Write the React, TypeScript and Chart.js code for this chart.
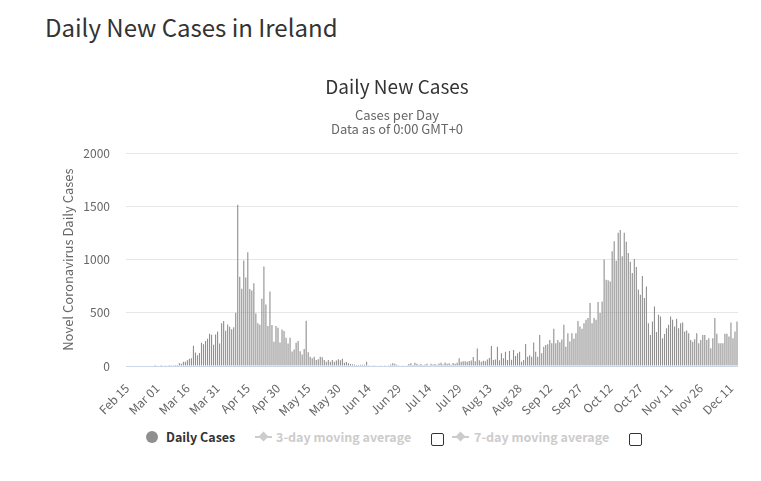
import React, { useEffect, useRef } from 'react';
import { Chart, registerables } from 'chart.js';

Chart.register(...registerables);

const FONT = '"Noto Sans CJK KR", "Noto Sans", sans-serif';

// Daily new cases, Feb 15 – Dec 14, 2020
const febCases = [0, 0, 0, 0, 0, 0, 0, 0, 0, 0, 0, 0, 0, 0, 1];
const marCases = [0, 0, 1, 4, 7, 5, 1, 3, 3, 10, 9, 27, 20, 39, 40, 54, 69, 74, 191, 126, 102, 121, 219, 204, 235, 255, 302, 294, 200, 295, 325];
const aprCases = [212, 402, 424, 331, 390, 370, 345, 365, 500, 1515, 839, 727, 992, 832, 1068, 724, 709, 778, 493, 401, 388, 631, 936, 577, 377, 701, 386, 229, 376, 359];
const mayCases = [221, 343, 330, 266, 211, 265, 137, 156, 219, 236, 139, 107, 159, 426, 130, 88, 72, 88, 57, 63, 88, 82, 57, 41, 57, 41, 57, 41, 51, 63, 55];
const junCases = [69, 31, 38, 25, 19, 16, 13, 9, 10, 12, 11, 12, 41, 8, 5, 3, 2, 0, 4, 3, 5, 6, 4, 8, 14, 25, 20, 12, 6, 4];
const julCases = [3, 5, 2, 18, 25, 10, 30, 20, 12, 18, 10, 15, 22, 8, 20, 14, 18, 12, 24, 30, 15, 33, 20, 25, 12, 28, 22, 30, 72, 40, 45];
const augCases = [45, 40, 48, 52, 85, 45, 165, 55, 40, 50, 45, 60, 75, 189, 57, 60, 180, 55, 120, 72, 135, 57, 141, 58, 151, 94, 120, 135, 41, 57, 207];
const sepCases = [88, 100, 88, 220, 135, 88, 292, 120, 182, 198, 205, 245, 214, 349, 214, 245, 223, 250, 387, 182, 308, 230, 308, 255, 308, 424, 371, 350, 402, 434];
const octCases = [450, 591, 402, 450, 434, 601, 497, 607, 1000, 811, 805, 795, 1078, 1173, 990, 1252, 1277, 1031, 1252, 1167, 1063, 980, 874, 1005, 930, 720, 670, 845, 640, 748, 402];
const novCases = [292, 418, 559, 320, 481, 465, 261, 300, 355, 387, 465, 434, 371, 443, 355, 402, 409, 324, 333, 308, 245, 229, 252, 308, 214, 245, 292, 292, 245, 261];
const decCases = [167, 261, 450, 302, 214, 214, 214, 302, 302, 277, 409, 261, 324, 418];

const dailyCases = [
  ...febCases, ...marCases, ...aprCases, ...mayCases, ...junCases, ...julCases,
  ...augCases, ...sepCases, ...octCases, ...novCases, ...decCases,
];

const MONTHS = ['Jan', 'Feb', 'Mar', 'Apr', 'May', 'Jun', 'Jul', 'Aug', 'Sep', 'Oct', 'Nov', 'Dec'];
const START = Date.UTC(2020, 1, 15);
const dateLabels = dailyCases.map((_, i) => {
  const d = new Date(START + i * 86400000);
  return `${MONTHS[d.getUTCMonth()]} ${String(d.getUTCDate()).padStart(2, '0')}`;
});

const tickLabels = ['Feb 15', 'Mar 01', 'Mar 16', 'Mar 31', 'Apr 15', 'Apr 30', 'May 15', 'May 30', 'Jun 14', 'Jun 29', 'Jul 14', 'Jul 29', 'Aug 13', 'Aug 28', 'Sep 12', 'Sep 27', 'Oct 12', 'Oct 27', 'Nov 11', 'Nov 26', 'Dec 11'];
const yTicks = [0, 500, 1000, 1500, 2000];

const CW = 682;
const CH = 356;

export default function App() {
  const ref = useRef<HTMLCanvasElement | null>(null);

  useEffect(() => {
    if (!ref.current) return;
    const chart = new Chart(ref.current, {
      type: 'bar',
      data: {
        labels: dateLabels,
        datasets: [
          {
            label: 'Daily Cases',
            data: dailyCases,
            backgroundColor: '#8f8f8f',
            borderWidth: 0,
            barPercentage: 0.55,
            categoryPercentage: 1.0,
          },
        ],
      },
      options: {
        animation: false,
        responsive: false,
        devicePixelRatio: 1,
        layout: { padding: { left: 0, right: 0, top: 0, bottom: 0 } },
        plugins: {
          legend: { display: false },
          tooltip: { enabled: false },
          title: {
            display: true,
            text: 'Daily New Cases',
            color: '#333333',
            font: { family: FONT, size: 19, weight: 'normal' },
            padding: { top: 15.6, bottom: 0 },
          },
          subtitle: {
            display: true,
            text: ['Cases per Day', 'Data as of 0:00 GMT+0'],
            color: '#666666',
            font: { family: FONT, size: 13, weight: 'normal', lineHeight: 1.08 },
            padding: { top: 10, bottom: 16.7 },
          },
        },
        scales: {
          x: {
            offset: true,
            grid: { display: false },
            border: { display: true, color: '#ccd6eb', width: 1 },
            afterFit: (scale: any) => {
              scale.height = 50;
              scale.paddingRight = 0;
              scale.paddingLeft = 0;
            },
            ticks: {
              autoSkip: false,
              minRotation: 45,
              maxRotation: 45,
              padding: 7,
              color: '#666666',
              font: { family: FONT, size: 12 },
              callback: (_v: any, index: number) => {
                const lab = dateLabels[index];
                return tickLabels.includes(lab) ? lab : '';
              },
            },
          },
          y: {
            min: yTicks[0],
            max: yTicks[yTicks.length - 1],
            afterFit: (scale: any) => {
              scale.width = 70;
            },
            afterBuildTicks: (scale: any) => {
              scale.ticks = yTicks.map((v) => ({ value: v }));
            },
            border: { display: false },
            grid: {
              drawTicks: false,
              lineWidth: 1,
              color: (ctx: any) => (ctx.tick && ctx.tick.value === 0 ? 'rgba(0,0,0,0)' : '#e6e6e6'),
            },
            ticks: {
              padding: 16,
              color: '#666666',
              font: { family: FONT, size: 12 },
              callback: (v: any) => String(v),
            },
            title: {
              display: true,
              text: 'Novel Coronavirus Daily Cases',
              color: '#666666',
              font: { family: FONT, size: 13, weight: 'normal' },
              padding: { top: 4, bottom: 0 },
            },
          },
        },
      },
    });
    return () => chart.destroy();
  }, []);

  const legendText: React.CSSProperties = {
    position: 'absolute',
    top: 429,
    transform: 'translateY(-50%)',
    fontFamily: FONT,
    fontSize: 12.5,
    fontWeight: 'bold',
    lineHeight: '16px',
    whiteSpace: 'nowrap',
  };
  const box: React.CSSProperties = {
    position: 'absolute',
    top: 425,
    width: 11,
    height: 11,
    border: '1px solid #333',
    borderRadius: 2,
    background: '#fff',
  };
  const lineSym = (left: number) => (
    <div style={{ position: 'absolute', left, top: 428, width: 17, height: 2, background: '#cccccc' }}>
      <div
        style={{
          position: 'absolute',
          left: 5,
          top: -3,
          width: 7,
          height: 7,
          background: '#cccccc',
          transform: 'rotate(45deg)',
        }}
      />
    </div>
  );

  return (
    <div style={{ position: 'relative', width: 745, height: 465 }}>
      <div
        style={{
          position: 'absolute',
          left: 37,
          top: 7,
          fontFamily: FONT,
          fontSize: 24,
          lineHeight: '24px',
          color: '#333333',
          whiteSpace: 'nowrap',
        }}
      >
        Daily New Cases in Ireland
      </div>
      <canvas
        ref={ref}
        width={CW}
        height={CH}
        style={{ position: 'absolute', left: 48, top: 52, width: CW, height: CH }}
      />
      <div
        style={{
          position: 'absolute',
          left: 138,
          top: 423,
          width: 12,
          height: 12,
          borderRadius: '50%',
          background: '#8f8f8f',
        }}
      />
      <div style={{ ...legendText, left: 158, color: '#333333' }}>Daily Cases</div>
      {lineSym(247)}
      <div style={{ ...legendText, left: 268, color: '#cccccc' }}>3-day moving average</div>
      <div style={{ ...box, left: 423 }} />
      {lineSym(444)}
      <div style={{ ...legendText, left: 466, color: '#cccccc' }}>7-day moving average</div>
      <div style={{ ...box, left: 621 }} />
    </div>
  );
}
